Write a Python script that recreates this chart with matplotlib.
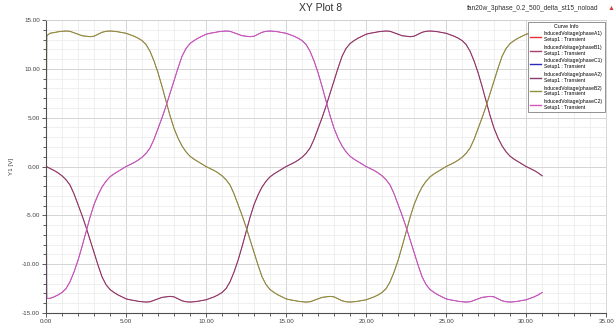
import matplotlib
matplotlib.use("Agg")
import matplotlib.pyplot as plt
from matplotlib.ticker import MultipleLocator, FormatStrFormatter

plt.rcParams['font.family'] = ['Liberation Sans', 'DejaVu Sans']

# time axis in steps of 0.25 (second sample is the start-up jump)
time = [0.0, 0.05] + [i * 0.25 for i in range(1, 125)]

# induced voltage per phase
phase_a = [0.0, -0.02,
           -0.2, -0.4, -0.65, -0.95, -1.35, -1.9, -2.8, -3.9, -5.0,
           -6.2, -7.5, -8.8, -10.1, -11.3, -12.1, -12.6, -12.9, -13.15, -13.35, -13.55,
           -13.65, -13.72, -13.8, -13.85, -13.88, -13.85, -13.7, -13.55, -13.4, -13.35,
           -13.3, -13.35, -13.55, -13.75, -13.85, -13.88, -13.85, -13.8, -13.72, -13.65,
           -13.5, -13.35, -13.15, -12.9, -12.5, -11.8, -10.8, -9.6, -8.2, -6.7,
           -5.2, -3.9, -2.9, -2.1, -1.5, -1.05, -0.75, -0.5, -0.25, 0.0,
           0.2, 0.4, 0.65, 0.95, 1.35, 1.9, 2.8, 3.9, 5.0, 6.2,
           7.5, 8.8, 10.1, 11.3, 12.1, 12.6, 12.9, 13.15, 13.35, 13.55,
           13.65, 13.72, 13.8, 13.85, 13.88, 13.85, 13.7, 13.55, 13.4, 13.35,
           13.3, 13.35, 13.55, 13.75, 13.85, 13.88, 13.85, 13.8, 13.72, 13.65,
           13.5, 13.35, 13.15, 12.9, 12.5, 11.8, 10.8, 9.6, 8.2, 6.7,
           5.2, 3.9, 2.9, 2.1, 1.5, 1.05, 0.75, 0.5, 0.25, 0.0,
           -0.2, -0.4, -0.65, -0.95]
phase_b = [0.0, 13.4,
           13.65, 13.72, 13.8, 13.85, 13.88, 13.85, 13.7, 13.55, 13.4, 13.35,
           13.3, 13.35, 13.55, 13.75, 13.85, 13.88, 13.85, 13.8, 13.72, 13.65,
           13.5, 13.35, 13.15, 12.9, 12.5, 11.8, 10.8, 9.6, 8.2, 6.7,
           5.2, 3.9, 2.9, 2.1, 1.5, 1.05, 0.75, 0.5, 0.25, 0.0,
           -0.2, -0.4, -0.65, -0.95, -1.35, -1.9, -2.8, -3.9, -5.0, -6.2,
           -7.5, -8.8, -10.1, -11.3, -12.1, -12.6, -12.9, -13.15, -13.35, -13.55,
           -13.65, -13.72, -13.8, -13.85, -13.88, -13.85, -13.7, -13.55, -13.4, -13.35,
           -13.3, -13.35, -13.55, -13.75, -13.85, -13.88, -13.85, -13.8, -13.72, -13.65,
           -13.5, -13.35, -13.15, -12.9, -12.5, -11.8, -10.8, -9.6, -8.2, -6.7,
           -5.2, -3.9, -2.9, -2.1, -1.5, -1.05, -0.75, -0.5, -0.25, 0.0,
           0.2, 0.4, 0.65, 0.95, 1.35, 1.9, 2.8, 3.9, 5.0, 6.2,
           7.5, 8.8, 10.1, 11.3, 12.1, 12.6, 12.9, 13.15, 13.35, 13.55,
           13.65, 13.72, 13.8, 13.85]
phase_c = [0.0, -13.5,
           -13.5, -13.35, -13.15, -12.9, -12.5, -11.8, -10.8, -9.6, -8.2, -6.7,
           -5.2, -3.9, -2.9, -2.1, -1.5, -1.05, -0.75, -0.5, -0.25, 0.0,
           0.2, 0.4, 0.65, 0.95, 1.35, 1.9, 2.8, 3.9, 5.0, 6.2,
           7.5, 8.8, 10.1, 11.3, 12.1, 12.6, 12.9, 13.15, 13.35, 13.55,
           13.65, 13.72, 13.8, 13.85, 13.88, 13.85, 13.7, 13.55, 13.4, 13.35,
           13.3, 13.35, 13.55, 13.75, 13.85, 13.88, 13.85, 13.8, 13.72, 13.65,
           13.5, 13.35, 13.15, 12.9, 12.5, 11.8, 10.8, 9.6, 8.2, 6.7,
           5.2, 3.9, 2.9, 2.1, 1.5, 1.05, 0.75, 0.5, 0.25, 0.0,
           -0.2, -0.4, -0.65, -0.95, -1.35, -1.9, -2.8, -3.9, -5.0, -6.2,
           -7.5, -8.8, -10.1, -11.3, -12.1, -12.6, -12.9, -13.15, -13.35, -13.55,
           -13.65, -13.72, -13.8, -13.85, -13.88, -13.85, -13.7, -13.55, -13.4, -13.35,
           -13.3, -13.35, -13.55, -13.75, -13.85, -13.88, -13.85, -13.8, -13.72, -13.65,
           -13.5, -13.35, -13.15, -12.9]

labels = ['InducedVoltage(phaseA1)', 'InducedVoltage(phaseB1)', 'InducedVoltage(phaseC1)',
          'InducedVoltage(phaseA2)', 'InducedVoltage(phaseB2)', 'InducedVoltage(phaseC2)']
series = [phase_a, phase_b, phase_c, phase_a, phase_b, phase_c]
colors = ['#e8303a', '#a8406e', '#2a2ab8', '#8a3a6e', '#8f8f3c', '#d255b8']
widths = [0.4, 0.4, 0.4, 0.8, 0.8, 0.8]

fig = plt.figure(figsize=(6.16, 3.24), dpi=100)
ax = fig.add_axes([0.0747, 0.034, 0.9093, 0.904])

# set 1 lies exactly under set 2, so draw it thinner
for y, c, w, lab in zip(series, colors, widths, labels):
    ax.plot(time, y, color=c, lw=w, label=lab + '\nSetup1 : Transient')

ax.set_xlim(0, 35)
ax.set_ylim(-15, 15)
ax.xaxis.set_major_locator(MultipleLocator(5))
ax.xaxis.set_minor_locator(MultipleLocator(1))
ax.yaxis.set_major_locator(MultipleLocator(5))
ax.yaxis.set_minor_locator(MultipleLocator(1))
ax.xaxis.set_major_formatter(FormatStrFormatter('%.2f'))
ax.yaxis.set_major_formatter(FormatStrFormatter('%.2f'))
ax.grid(which='minor', color='#ececec', lw=0.6)
ax.grid(which='major', color='#d4d4d4', lw=0.7)
ax.set_axisbelow(True)
ax.tick_params(which='both', labelsize=4.5, colors='#404040', length=3, width=0.6, pad=1.5)
ax.tick_params(which='minor', length=2.5)
for s in ['left', 'bottom']:
    ax.spines[s].set_color('#505050')
    ax.spines[s].set_linewidth(0.8)
for s in ['top', 'right']:
    ax.spines[s].set_color('#d0d0d0')
    ax.spines[s].set_linewidth(0.6)

ax.set_ylabel('Y1 [V]', fontsize=4.5, labelpad=6, color='#404040')

leg = ax.legend(loc='upper right', fontsize=3.6, title='Curve Info', title_fontsize=3.8,
                fancybox=False, edgecolor='#808080', framealpha=1,
                handlelength=2.2, handletextpad=0.6, labelspacing=0.55,
                borderaxespad=0.3, borderpad=0.4)
leg.get_frame().set_linewidth(0.6)
for line in leg.get_lines():
    line.set_linewidth(1.0)

fig.text(0.52, 0.975, 'XY Plot 8', ha='center', va='center', fontsize=7.5, color='#303030')
fig.text(0.972, 0.975, 'fan20w_3phase_0.2_500_delta_st15_noload', ha='right', va='center',
         fontsize=4.8, color='#303030')
fig.text(0.992, 0.975, '\u25B2', ha='center', va='center', fontsize=5, color='#d04040')

fig.savefig('out.png', dpi=100)
